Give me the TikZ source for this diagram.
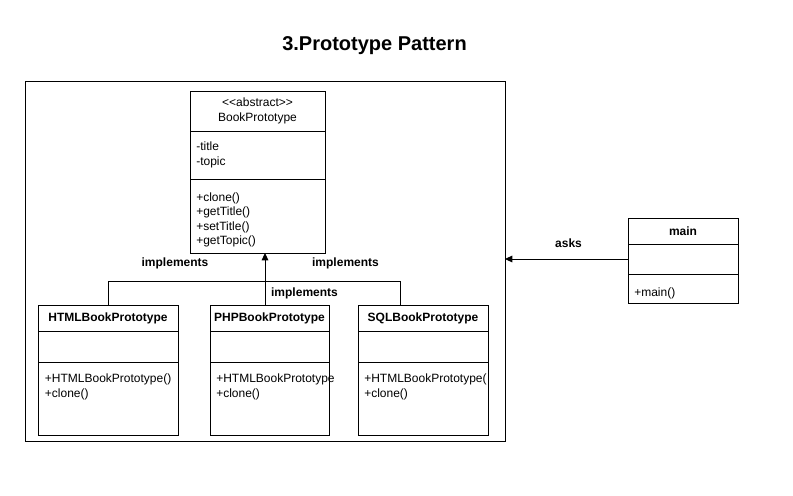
\documentclass[tikz,border=0pt]{standalone}
\usepackage{fontspec}
\setmainfont{Liberation Sans}
\usetikzlibrary{arrows.meta,positioning}

\begin{document}
\begin{tikzpicture}[
    x=0.75pt, y=-0.75pt,
    every node/.style={font=\fontsize{9}{10.8}\selectfont},
    frame/.style={draw, line width=0.75pt, minimum width=360pt, minimum height=270pt, anchor=north west, inner sep=0, outer sep=0},
    head/.style={draw, line width=0.75pt, anchor=north, align=center, inner sep=0, outer sep=0, font=\fontsize{9}{10.8}\selectfont\bfseries},
    part/.style={draw, line width=0.75pt, inner sep=0, outer sep=0},
    txt/.style={align=left, inner sep=0},
    lbl/.style={font=\fontsize{9}{10.8}\selectfont\bfseries, inner sep=0},
    link/.style={line width=0.75pt},
    arr/.style={line width=0.75pt, -{Triangle[length=5.5pt,width=5pt]}}
]
\useasboundingbox (0,0) rectangle (793,496);

\node[font=\fontsize{15}{18}\selectfont\bfseries] (title) at (374.5,46) {3.Prototype Pattern};
\node[frame] (frame) at (25,81) {};

% abstract class
\node[head, font=\fontsize{9}{10.8}\selectfont, minimum width=101.25pt, minimum height=30pt] (bp) at (257.5,91) {\textless\kern0pt\textless abstract\textgreater\kern0pt\textgreater\\BookPrototype};
\node[part, minimum width=101.25pt, minimum height=36pt, below=0pt of bp] (bpattr) {};
\node[part, minimum width=101.25pt, minimum height=55.5pt, below=0pt of bpattr] (bpop) {};
\node[txt, below right=8pt and 4.5pt of bpattr.north west] (bpattrtxt) {-title\\-topic};
\node[txt, below right=10pt and 4.5pt of bpop.north west] (bpoptxt) {+clone()\\+getTitle()\\+setTitle()\\+getTopic()};

% concrete classes
\node[head, minimum width=105pt, minimum height=19.5pt] (html) at (108,305) {HTMLBookPrototype};
\node[part, minimum width=105pt, minimum height=23.25pt, below=0pt of html] (htmlattr) {};
\node[part, minimum width=105pt, minimum height=54.75pt, below=0pt of htmlattr] (htmlop) {};
\node[txt, below right=9pt and 5pt of htmlop.north west] (htmloptxt) {+HTMLBookPrototype()\\+clone()};

\node[head, minimum width=89.25pt, minimum height=19.5pt] (php) at (269.5,305) {PHPBookPrototype};
\node[part, minimum width=89.25pt, minimum height=23.25pt, below=0pt of php] (phpattr) {};
\node[part, minimum width=89.25pt, minimum height=54.75pt, below=0pt of phpattr] (phpop) {};
\node[txt, below right=9pt and 4.5pt of phpop.north west] (phpoptxt) {+HTMLBookPrototype\\+clone()};

\node[head, minimum width=97.5pt, minimum height=19.5pt] (sql) at (423,305) {SQLBookPrototype};
\node[part, minimum width=97.5pt, minimum height=23.25pt, below=0pt of sql] (sqlattr) {};
\node[part, minimum width=97.5pt, minimum height=54.75pt, below=0pt of sqlattr] (sqlop) {};
\node[txt, below right=9pt and 4.5pt of sqlop.north west] (sqloptxt) {+HTMLBookPrototype(\\+clone()};

% client
\node[head, minimum width=82.5pt, minimum height=19.5pt] (main) at (683,218) {main};
\node[part, minimum width=82.5pt, minimum height=22.5pt, below=0pt of main] (mainattr) {};
\node[part, minimum width=82.5pt, minimum height=21.75pt, below=0pt of mainattr] (mainop) {};
\node[txt, below right=10pt and 4.5pt of mainop.north west] (mainoptxt) {+main()};

% connectors
\coordinate (hub) at (265,281);
\coordinate (sqlhook) at (400,281);
\draw[link] (html.north) |- (sqlhook) -- (sqlhook |- sql.north);
\draw[arr] (hub |- php.north) -- (hub |- bpop.south);
\draw[arr] (mainattr.west) -- (frame.east |- mainattr.west);

\node[lbl] (implleft) at (175,263) {implements};
\node[lbl] (implright) at (345.5,263) {implements};
\node[lbl] (implmid) at (304.5,293) {implements};
\node[lbl] (asks) at (568.5,243) {asks};
\end{tikzpicture}
\end{document}
